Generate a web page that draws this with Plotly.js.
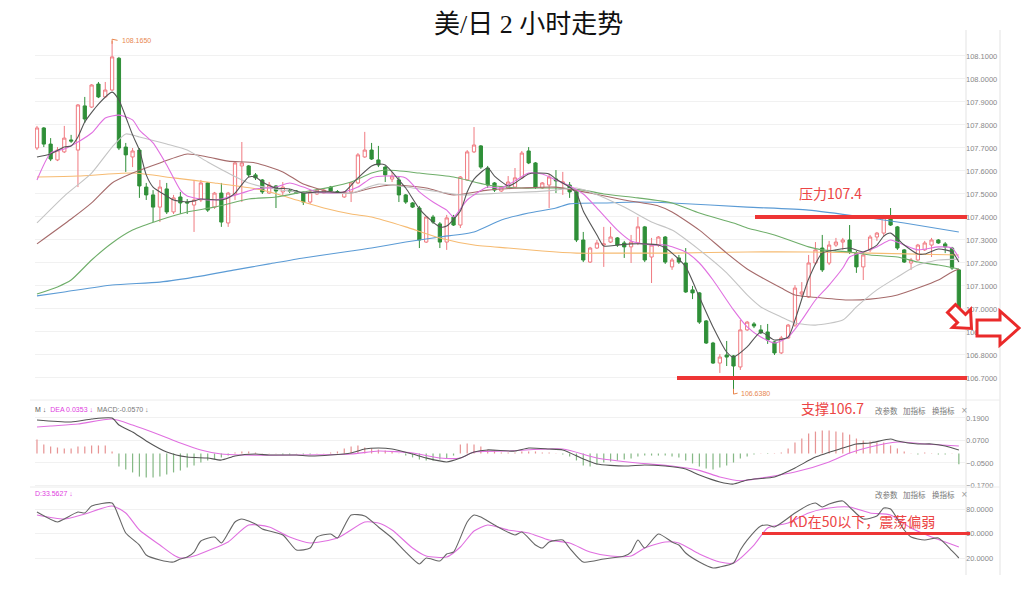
<!DOCTYPE html>
<html>
<head>
<meta charset="utf-8">
<script src="https://cdn.plot.ly/plotly-3.0.1.min.js"></script>
<style>html,body{margin:0;padding:0;background:#fff;}#chart{width:1024px;height:589px;}</style>
</head>
<body>
<div id="chart"></div>
<script>
// ---------- price candles (USD/JPY, 2-hour) ----------
const candleOpen = [107.700,107.787,107.717,107.648,107.683,107.735,107.691,107.883,107.878,107.978,
107.922,107.952,108.090,107.704,107.661,107.691,107.530,107.496,107.443,107.522,
107.422,107.487,107.465,107.452,107.474,107.548,107.443,107.504,107.374,107.500,
107.622,107.622,107.583,107.561,107.504,107.535,107.509,107.515,107.513,107.509,
107.465,107.500,107.504,107.530,107.510,107.487,107.509,107.548,107.661,107.691,
107.648,107.617,107.565,107.561,107.496,107.461,107.439,107.291,107.400,107.370,
107.291,107.400,107.365,107.561,107.683,107.709,107.613,107.548,107.513,107.526,
107.530,107.570,107.687,107.635,107.526,107.539,107.565,107.548,107.539,107.509,
107.300,107.204,107.265,107.278,107.291,107.309,107.287,107.270,107.287,107.357,
107.226,107.278,107.313,107.183,107.222,107.200,107.083,107.070,106.948,106.852,
106.765,106.800,106.796,106.748,106.909,106.935,106.909,106.900,106.857,106.809,
106.874,106.930,107.065,107.052,107.200,107.265,107.200,107.278,107.291,107.300,
107.243,107.183,107.257,107.313,107.330,107.396,107.357,107.257,107.200,107.213,
107.257,107.278,107.300,107.283,107.265,107.170];
const candleClose = [107.787,107.717,107.652,107.691,107.743,107.730,107.887,107.826,107.974,107.922,
107.952,108.096,107.700,107.670,107.687,107.535,107.496,107.443,107.530,107.422,
107.483,107.461,107.461,107.474,107.548,107.430,107.504,107.378,107.504,107.635,
107.635,107.583,107.570,107.509,107.539,107.513,107.530,107.513,107.504,107.465,
107.509,107.517,107.517,107.513,107.509,107.509,107.548,107.670,107.691,107.652,
107.626,107.583,107.578,107.496,107.465,107.443,107.300,107.400,107.378,107.291,
107.396,107.365,107.574,107.683,107.713,107.617,107.539,107.517,107.530,107.552,
107.570,107.678,107.635,107.530,107.548,107.574,107.557,107.552,107.509,107.300,
107.213,107.265,107.287,107.283,107.313,107.278,107.270,107.291,107.357,107.213,
107.278,107.313,107.204,107.213,107.204,107.074,107.070,106.943,106.852,106.765,
106.791,106.791,106.752,106.909,106.943,106.926,106.896,106.865,106.809,106.874,
106.930,107.091,107.074,107.200,107.257,107.170,107.278,107.291,107.300,107.248,
107.183,107.235,107.313,107.330,107.400,107.365,107.265,107.204,107.213,107.278,
107.287,107.300,107.287,107.270,107.178,106.987];
const candleHigh = [107.796,107.791,107.743,107.704,107.796,107.757,107.891,107.922,107.978,107.987,
107.987,108.165,108.096,107.722,107.700,107.700,107.548,107.517,107.561,107.548,
107.496,107.509,107.478,107.561,107.561,107.552,107.509,107.548,107.509,107.639,
107.726,107.626,107.591,107.565,107.552,107.539,107.552,107.522,107.517,107.513,
107.517,107.522,107.522,107.535,107.517,107.513,107.552,107.678,107.770,107.722,
107.709,107.622,107.596,107.578,107.500,107.465,107.448,107.404,107.409,107.378,
107.409,107.409,107.578,107.691,107.791,107.713,107.622,107.552,107.535,107.578,
107.613,107.687,107.704,107.639,107.552,107.587,107.604,107.596,107.552,107.513,
107.335,107.270,107.300,107.357,107.357,107.313,107.296,107.322,107.400,107.361,
107.309,107.317,107.317,107.222,107.235,107.265,107.100,107.074,106.952,106.857,
106.804,106.861,106.800,106.952,106.948,106.943,106.930,106.935,106.861,106.883,
106.935,107.104,107.117,107.235,107.291,107.322,107.296,107.309,107.309,107.365,
107.252,107.243,107.322,107.335,107.409,107.439,107.361,107.261,107.222,107.283,
107.296,107.309,107.304,107.291,107.270,107.174];
const candleLow = [107.691,107.704,107.643,107.643,107.678,107.722,107.530,107.809,107.874,107.917,
107.917,107.948,107.691,107.596,107.617,107.483,107.474,107.378,107.378,107.413,
107.413,107.413,107.413,107.335,107.465,107.422,107.435,107.357,107.357,107.474,
107.465,107.574,107.561,107.500,107.500,107.439,107.491,107.504,107.500,107.452,
107.457,107.496,107.500,107.509,107.504,107.483,107.465,107.543,107.657,107.648,
107.617,107.552,107.552,107.465,107.457,107.439,107.265,107.287,107.370,107.265,
107.257,107.361,107.352,107.557,107.678,107.609,107.526,107.509,107.509,107.522,
107.526,107.565,107.630,107.522,107.522,107.439,107.504,107.496,107.483,107.291,
107.204,107.200,107.261,107.183,107.287,107.270,107.222,107.200,107.278,107.204,
107.113,107.270,107.196,107.170,107.196,107.070,107.043,106.935,106.848,106.761,
106.722,106.752,106.638,106.735,106.904,106.917,106.891,106.848,106.800,106.804,
106.870,106.922,107.052,107.048,107.191,107.161,107.191,107.270,107.257,107.239,
107.157,107.126,107.248,107.296,107.313,107.361,107.257,107.200,107.170,107.209,
107.252,107.226,107.283,107.243,107.170,106.983];

// ---------- moving averages (read at sampled candle indices) ----------
const ma5Idx = [0,2,4,5,6,7,9,11,12,13,14,15,16,17,19,20,22,23,24,27,28,29,31,32,33,35,37,39,41,43,45,47,49,50,51,53,54,56,57,59,60,62,63,64,66,67,69,70,72,73,75,76,78,79,80,82,83,85,87,89,91,92,93,95,97,99,101,102,104,106,108,110,111,113,115,117,119,121,123,124,125,127,129,130,132,134,135];
const ma5Val = [107.661,107.674,107.704,107.709,107.748,107.813,107.891,107.943,107.909,107.835,107.757,107.691,107.583,107.530,107.491,107.474,107.465,107.470,107.478,107.474,107.483,107.504,107.574,107.574,107.552,107.526,107.522,107.504,107.509,107.509,107.509,107.570,107.622,107.630,107.626,107.561,107.526,107.435,107.404,107.357,107.361,107.426,107.509,107.565,107.613,107.578,107.535,107.548,107.587,107.591,107.587,107.565,107.530,107.504,107.426,107.322,107.274,107.278,107.283,107.283,107.278,107.265,107.243,107.183,107.052,106.922,106.813,106.791,106.835,106.900,106.865,106.878,106.952,107.130,107.243,107.257,107.265,107.248,107.278,107.317,107.330,107.278,107.239,107.239,107.261,107.248,107.204];
const ma10Idx = [0,2,4,6,8,10,12,14,15,17,19,21,22,25,27,30,32,35,37,39,41,43,45,47,49,51,54,56,58,60,61,63,66,68,70,72,74,76,78,80,82,85,87,90,92,95,97,99,102,104,106,108,110,112,114,116,118,119,121,123,125,127,129,132,134,135];
const ma10Val = [107.561,107.678,107.696,107.726,107.765,107.830,107.843,107.822,107.778,107.722,107.626,107.517,107.491,107.474,107.478,107.504,107.522,107.530,107.548,107.530,107.509,107.504,107.509,107.530,107.570,107.578,107.570,107.509,107.465,107.430,107.400,107.474,107.530,107.526,107.557,107.591,107.587,107.561,107.535,107.500,107.439,107.343,107.296,107.278,107.278,107.248,107.200,107.126,106.996,106.922,106.878,106.852,106.878,106.952,107.039,107.104,107.178,107.226,107.248,107.270,107.300,107.278,107.257,107.270,107.265,107.222];
const ma20Idx = [0,4,8,11,13,15,19,22,25,28,31,34,38,42,46,50,55,59,62,68,72,76,79,81,86,90,93,97,101,104,106,109,111,114,118,120,123,126,129,132,135];
const ma20Val = [107.374,107.491,107.591,107.704,107.761,107.748,107.717,107.691,107.639,107.591,107.548,107.526,107.509,107.504,107.504,107.543,107.526,107.509,107.496,107.504,107.509,107.517,107.526,107.509,107.443,107.378,107.343,107.257,107.157,107.061,107.009,106.965,106.939,106.930,106.952,107.009,107.083,107.139,107.191,107.213,107.217];
const ma30Idx = [0,5,8,11,14,18,22,25,28,32,36,39,43,46,49,52,57,61,66,71,76,81,86,91,93,97,101,104,106,109,111,115,119,122,126,129,132,134,135];
const ma30Val = [107.283,107.391,107.461,107.548,107.591,107.635,107.674,107.661,107.643,107.635,107.596,107.543,107.509,107.504,107.526,107.539,107.526,107.496,107.517,107.526,107.530,107.504,107.474,107.448,107.422,107.343,107.243,107.174,107.139,107.091,107.061,107.048,107.039,107.043,107.061,107.091,107.126,107.161,107.174];
const ma60Idx = [0,3,5,8,11,14,18,22,26,31,35,39,43,46,49,51,56,61,66,71,76,80,83,88,93,97,102,104,108,113,115,119,122,126,129,132,135];
const ma60Val = [107.065,107.096,107.126,107.213,107.287,107.343,107.387,107.422,107.443,107.478,107.487,107.509,107.530,107.552,107.591,107.604,107.591,107.574,107.539,107.526,107.526,107.517,107.500,107.483,107.461,107.417,107.374,107.352,107.322,107.270,107.257,107.248,107.235,107.226,107.204,107.191,107.174];
const maOrangeIdx = [0,6,14,20,26,33,38,42,46,49,54,59,64,69,74,79,84,93,104,113,122,135];
const maOrangeVal = [107.574,107.578,107.591,107.570,107.548,107.517,107.474,107.439,107.413,107.400,107.357,107.309,107.278,107.265,107.252,107.243,107.243,107.243,107.248,107.248,107.243,107.235];
const maBlueIdx = [0,4,11,18,24,29,34,39,46,49,54,59,64,68,72,76,78,83,88,93,104,113,121,127,135];
const maBlueVal = [107.057,107.074,107.104,107.117,107.143,107.170,107.196,107.222,107.252,107.265,107.291,107.313,107.335,107.387,107.417,107.439,107.457,107.461,107.465,107.461,107.443,107.430,107.400,107.374,107.335];

// ---------- MACD ----------
const difIdx = [0,5,8,11,12,14,16,19,22,25,27,29,32,34,38,40,43,46,48,50,52,55,57,60,62,64,66,70,72,75,77,80,82,86,89,92,95,97,100,102,104,108,111,114,118,120,122,125,126,129,131,133,135];
const difVal = [0.179,0.168,0.184,0.189,0.152,0.115,0.067,0.008,-0.019,-0.024,-0.035,-0.013,-0.003,-0.008,-0.008,-0.013,-0.008,0.003,0.024,0.029,0.024,-0.003,-0.024,-0.045,-0.024,0.008,0.019,0.013,0.029,0.024,0.019,-0.029,-0.056,-0.067,-0.061,-0.067,-0.083,-0.115,-0.152,-0.163,-0.141,-0.125,-0.077,-0.019,0.029,0.051,0.056,0.077,0.067,0.051,0.051,0.040,0.019];
const deaIdx = [0,2,6,11,14,18,21,24,27,30,38,46,50,55,59,62,64,69,77,82,88,93,97,100,103,107,111,116,119,122,126,130,135];
const deaVal = [0.141,0.147,0.157,0.184,0.152,0.099,0.056,0.019,-0.003,-0.008,-0.008,-0.003,0.013,0.003,-0.024,-0.024,0.008,0.013,0.024,-0.024,-0.051,-0.067,-0.090,-0.125,-0.145,-0.125,-0.099,-0.045,0.003,0.035,0.061,0.051,0.040];
const macdHist = [0.075,0.048,0.037,0.032,0.027,0.027,0.037,0.037,0.043,0.043,0.043,0.011,
-0.069,-0.085,-0.101,-0.123,-0.128,-0.128,-0.123,-0.112,-0.101,-0.091,-0.075,-0.064,-0.048,-0.037,-0.032,-0.021,-0.011,
0.005,0.011,0.011,0.005,0.002,0.001,0.001,-0.005,-0.005,0.001,-0.005,-0.005,0.001,0.002,0.005,0.011,
0.027,0.037,0.043,0.032,0.027,0.021,0.016,0.011,0.001,-0.011,-0.021,-0.032,-0.037,-0.037,-0.032,-0.027,-0.011,
0.048,0.053,0.048,0.037,0.021,0.016,0.005,0.005,0.005,0.011,0.011,0.011,0.005,0.005,0.001,-0.005,-0.016,
-0.037,-0.064,-0.069,-0.059,-0.048,-0.043,-0.037,-0.032,-0.027,-0.016,-0.011,-0.011,-0.011,-0.011,-0.016,-0.021,-0.037,-0.053,-0.069,-0.080,-0.085,-0.075,-0.064,-0.048,-0.027,-0.016,-0.005,0.001,-0.002,0.002,0.005,
0.027,0.059,0.080,0.107,0.117,0.123,0.123,0.117,0.112,0.101,0.080,0.069,0.064,0.059,0.059,0.043,0.027,0.011,0.002,-0.005,0.005,0.002,-0.005,-0.005,0.002,-0.057];

// ---------- KD ----------
const kIdx = [0,3,4,6,7,8,11,12,13,15,16,18,20,21,22,23,24,26,27,28,29,30,32,33,36,38,40,41,43,44,46,48,50,52,54,56,57,59,60,61,63,64,65,67,70,71,73,74,75,77,78,80,83,86,87,88,89,91,93,94,95,97,99,100,102,103,104,106,107,108,111,113,114,115,116,118,119,121,123,124,125,127,128,130,132,134,135];
const kVal = [76.3,64.1,67.8,76.3,75.1,83.7,87.3,70.2,50.6,35.9,23.7,17.6,15.1,18.8,21.2,27.3,40.8,45.7,38.4,50.6,64.1,67.8,61.6,55.5,48.2,29.8,32.2,45.7,49.4,44.5,72.7,71.4,58.0,44.5,27.3,12.7,20.0,16.3,24.9,27.3,64.1,72.7,70.2,60.4,48.2,51.8,35.9,32.2,39.6,42.0,32.2,15.1,18.8,22.4,27.3,42.0,32.2,49.4,39.6,35.9,26.1,15.1,7.8,9.0,13.9,29.8,42.0,59.2,60.4,58.0,75.1,84.9,87.3,82.4,86.1,89.8,82.4,67.8,71.4,81.2,80.0,54.3,45.7,42.0,44.5,28.6,20.0];
const dIdx = [0,4,7,11,13,15,18,20,21,23,26,28,31,34,37,40,44,48,50,52,55,57,60,62,64,66,69,72,75,78,81,84,87,89,92,94,97,100,102,105,107,110,113,116,119,122,125,128,131,135];
const dVal = [72.7,67.8,73.9,83.7,75.1,54.3,35.9,23.7,20.0,22.4,32.2,39.6,60.4,58.0,45.7,38.4,44.5,64.1,62.9,54.3,32.2,22.4,21.2,33.5,53.1,60.4,54.3,50.6,42.0,38.4,27.3,22.4,22.4,32.2,39.6,38.4,24.9,15.1,13.9,35.9,56.7,62.9,75.1,81.2,82.4,75.1,72.7,56.7,45.7,33.5];

// ---------- axis ticks & marked levels ----------
const priceTicks = [106.7,106.8,106.9,107.0,107.1,107.2,107.3,107.4,107.5,107.6,107.7,107.8,107.9,108.0,108.1];
const macdTicks = [0.19,0.07,-0.05,-0.17];
const kdTicks = [80,50,20];
const resistanceLevel = 107.4;
const supportLevel = 106.7;
const kdLevel = 50;
const highMark = {idx: 11, price: 108.165, label: '108.1650'};
const lowMark = {idx: 102, price: 106.638, label: '106.6380'};

const W = 1024, H = 589;
const PX = x => x / W;
const PY = y => 1 - y / H;
const idx = candleOpen.map((_, i) => i);

const RED = '#f07a80', GREEN = '#2f8f38';
const lineTrace = (xs, ys, color, yaxis, w) => ({
  type: 'scatter', mode: 'lines', x: xs, y: ys, yaxis: yaxis || 'y', xaxis: 'x',
  line: {color: color, width: w || 1.1, shape: 'spline', smoothing: 0.6}, hoverinfo: 'skip'
});

const traces = [
  {type: 'candlestick', x: idx, open: candleOpen, high: candleHigh, low: candleLow, close: candleClose,
   xaxis: 'x', yaxis: 'y', hoverinfo: 'skip', whiskerwidth: 0,
   increasing: {line: {color: RED, width: 1}, fillcolor: '#ffffff'},
   decreasing: {line: {color: GREEN, width: 1}, fillcolor: GREEN}},
  lineTrace(maBlueIdx, maBlueVal, '#5b9bd5'),
  lineTrace(maOrangeIdx, maOrangeVal, '#f6bb72'),
  lineTrace(ma60Idx, ma60Val, '#6fae6a'),
  lineTrace(ma30Idx, ma30Val, '#a66b6b'),
  lineTrace(ma20Idx, ma20Val, '#c4c4c4'),
  lineTrace(ma10Idx, ma10Val, '#e070e0'),
  lineTrace(ma5Idx, ma5Val, '#555555'),
  {type: 'bar', x: idx, y: macdHist, xaxis: 'x', yaxis: 'y2', width: 0.18, hoverinfo: 'skip',
   marker: {color: macdHist.map(v => v >= 0 ? '#e79494' : '#86b986'), line: {width: 0}}},
  lineTrace(deaIdx, deaVal, '#e070e0', 'y2'),
  lineTrace(difIdx, difVal, '#555555', 'y2'),
  lineTrace(dIdx, dVal, '#e070e0', 'y3'),
  lineTrace(kIdx, kVal, '#666666', 'y3')
];

const tickFont = {family: 'Liberation Sans, DejaVu Sans', size: 7.5, color: '#888'};
const yBase = {side: 'right', anchor: 'x', zeroline: false, showline: false, ticks: '',
  gridcolor: '#f1f1f1', gridwidth: 1, tickfont: tickFont, tickformat: '.4f', fixedrange: true};

const redLine = '#ee3535';
const shapes = [
  // panel frame lines
  {type: 'line', xref: 'paper', yref: 'paper', x0: PX(966), x1: PX(966), y0: PY(30), y1: PY(575), line: {color: '#e3e3e3', width: 1}},
  {type: 'line', xref: 'paper', yref: 'paper', x0: PX(1000), x1: PX(1000), y0: PY(30), y1: PY(575), line: {color: '#e3e3e3', width: 1}},
  {type: 'line', xref: 'paper', yref: 'paper', x0: PX(30), x1: PX(1000), y0: PY(400), y1: PY(400), line: {color: '#ececec', width: 1}},
  {type: 'line', xref: 'paper', yref: 'paper', x0: PX(30), x1: PX(1000), y0: PY(487), y1: PY(487), line: {color: '#ececec', width: 1}},
  // resistance / support / KD level
  {type: 'line', xref: 'paper', yref: 'y', x0: PX(755), x1: PX(967), y0: resistanceLevel, y1: resistanceLevel, line: {color: redLine, width: 4}},
  {type: 'line', xref: 'paper', yref: 'y', x0: PX(677), x1: PX(967), y0: supportLevel, y1: supportLevel, line: {color: redLine, width: 4}},
  {type: 'line', xref: 'paper', yref: 'y3', x0: PX(762), x1: PX(970), y0: kdLevel, y1: kdLevel, line: {color: redLine, width: 3}},
  // high / low leader hooks
  {type: 'path', xref: 'x', yref: 'y', path: `M ${highMark.idx},${highMark.price - 0.012} L ${highMark.idx},${highMark.price + 0.008} L ${highMark.idx + 0.8},${highMark.price + 0.003}`, line: {color: '#e8874f', width: 1}},
  {type: 'path', xref: 'x', yref: 'y', path: `M ${lowMark.idx},${lowMark.price + 0.015} L ${lowMark.idx},${lowMark.price - 0.008} L ${lowMark.idx + 0.6},${lowMark.price - 0.004}`, line: {color: '#e8874f', width: 1}},
  // red hollow arrows
  {type: 'path', xref: 'paper', yref: 'paper', fillcolor: '#ffffff', line: {color: '#ea2a2a', width: 3},
   path: 'M ' + [[955.5,304.5],[965.5,314.5],[970.5,309.5],[971.5,328.5],[952.5,327.5],[957.5,322.5],[947.5,312.5]].map(p => PX(p[0]) + ',' + PY(p[1])).join(' L ') + ' Z'},
  {type: 'path', xref: 'paper', yref: 'paper', fillcolor: '#ffffff', line: {color: '#ea2a2a', width: 3},
   path: 'M ' + [[977,320],[1000,320],[1000,311],[1019,328],[1000,345],[1000,336],[977,336]].map(p => PX(p[0]) + ',' + PY(p[1])).join(' L ') + ' Z'}
];

const cjk = 'Noto Sans CJK SC, Noto Sans, sans-serif';
const ann = (x, y, text, size, color, anchor, family) => ({
  xref: 'paper', yref: 'paper', x: PX(x), y: PY(y), text: text, showarrow: false,
  xanchor: anchor || 'center', yanchor: 'middle', font: {family: family || cjk, size: size, color: color}
});
const menu = y => [
  ann(873, y, '改参数', 7.5, '#777', 'left'),
  ann(901, y, '加指标', 7.5, '#777', 'left'),
  ann(930, y, '换指标', 7.5, '#777', 'left'),
  ann(964, y, '×', 8, '#999', 'center', 'DejaVu Sans')
];

const annotations = [
  ann(528, 25, '美/日 2 小时走势', 26, '#111', 'center', 'Liberation Serif, Noto Sans CJK SC'),
  ann(830, 193, '压力107.4', 14, '#ec4545'),
  ann(832, 408, '支撑106.7', 14, '#ec4545'),
  ann(862, 521, 'KD在50以下，震荡偏弱', 14, '#ec4545'),
  {xref: 'x', yref: 'y', x: highMark.idx + 1.1, y: highMark.price + 0.004, text: highMark.label, showarrow: false,
   xanchor: 'left', yanchor: 'middle', font: {family: 'Liberation Sans', size: 7, color: '#e8874f'}},
  {xref: 'x', yref: 'y', x: lowMark.idx + 0.8, y: lowMark.price - 0.004, text: lowMark.label, showarrow: false,
   xanchor: 'left', yanchor: 'middle', font: {family: 'Liberation Sans', size: 7, color: '#e8874f'}},
  ann(33, 409, '<span style="color:#555">M ↓</span>  <span style="color:#e040e0">DEA 0.0353 ↓</span>  <span style="color:#777">MACD:-0.0570 ↓</span>', 7, '#555', 'left', 'Liberation Sans'),
  ann(33, 493, 'D:33.5627 ↓', 7, '#e040e0', 'left', 'Liberation Sans'),
  ...menu(410),
  ...menu(494)
];

const layout = {
  width: W, height: H, margin: {l: 0, r: 0, t: 0, b: 0},
  paper_bgcolor: '#ffffff', plot_bgcolor: '#ffffff', showlegend: false, hovermode: false,
  boxgap: 0.32,
  xaxis: {domain: [PX(35), PX(965)], range: [-0.29, 135.9], showgrid: false, zeroline: false,
    showticklabels: false, ticks: '', showline: false, rangeslider: {visible: false}, fixedrange: true},
  yaxis: Object.assign({}, yBase, {domain: [PY(398), PY(30)], range: [106.613, 108.213], tickvals: priceTicks}),
  yaxis2: Object.assign({}, yBase, {domain: [PY(487), PY(401)], range: [-0.1786, 0.280], tickvals: macdTicks}),
  yaxis3: Object.assign({}, yBase, {domain: [PY(572), PY(489)], range: [2.86, 104.5], tickvals: kdTicks}),
  shapes: shapes,
  annotations: annotations
};

Plotly.newPlot('chart', traces, layout, {staticPlot: true, displayModeBar: false});
</script>
</body>
</html>
